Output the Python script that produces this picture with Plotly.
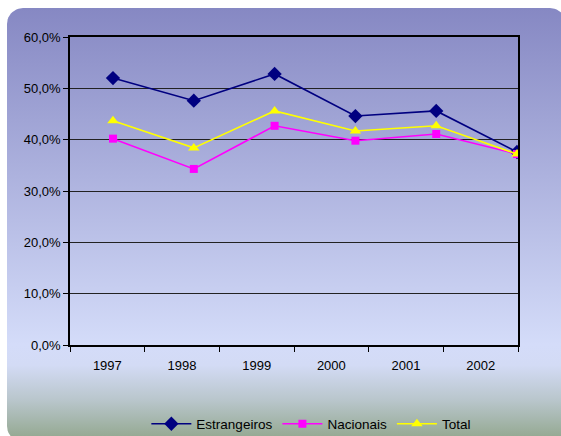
import numpy as np
import plotly.graph_objects as go

# dados
anos = ["1997", "1998", "1999", "2000", "2001", "2002"]
estrangeiros = [0.520, 0.476, 0.528, 0.446, 0.456, 0.376]
nacionais = [0.402, 0.343, 0.427, 0.398, 0.411, 0.372]
total = [0.437, 0.384, 0.456, 0.417, 0.427, 0.372]

W, H = 561, 436

# moldura arredondada com degradê (coordenadas em pixels, y para cima)
def rounded_rect(x0, y0, x1, y1, r, n=12):
    xs, ys = [], []
    cantos = [(x1 - r, y1 - r, 0, 90), (x0 + r, y1 - r, 90, 180),
              (x0 + r, y0 + r, 180, 270), (x1 - r, y0 + r, 270, 360)]
    for cx, cy, a0, a1 in cantos:
        t = np.radians(np.linspace(a0, a1, n))
        xs += list(cx + r * np.cos(t))
        ys += list(cy + r * np.sin(t))
    xs.append(xs[0])
    ys.append(ys[0])
    return xs, ys

bx, by = rounded_rect(7, -6, 566, 428, 16)

fig = go.Figure()

fig.add_trace(go.Scatter(
    x=bx, y=by, xaxis="x", yaxis="y",
    mode="lines", fill="toself", line=dict(width=0),
    fillgradient=dict(
        type="vertical", start=-6, stop=428,
        colorscale=[[0, "#93a891"], [0.014, "#96aa94"], [0.097, "#b9c6cc"],
                    [0.177, "#d3dbf5"], [0.224, "#d4dcf9"], [1, "#8688c3"]],
    ),
    hoverinfo="skip", showlegend=False,
))

# traço auxiliar para o eixo de categorias visível
fig.add_trace(go.Scatter(
    x=anos, y=[None] * len(anos), xaxis="x2", yaxis="y2",
    mode="markers", hoverinfo="skip", showlegend=False,
))

series = [
    ("Estrangeiros", estrangeiros, "#000080", "diamond", 11),
    ("Nacionais", nacionais, "#ff00ff", "square", 8),
    ("Total", total, "#ffff00", "triangle-up", 10),
]
for nome, vals, cor, simb, tam in series:
    fig.add_trace(go.Scatter(
        x=anos, y=vals, name=nome, xaxis="x3", yaxis="y2",
        mode="lines+markers",
        line=dict(color=cor, width=1.6),
        marker=dict(symbol=simb, size=tam, color=cor),
    ))

fig.update_layout(
    width=W, height=H, autosize=False,
    margin=dict(l=0, r=0, t=0, b=0, autoexpand=False),
    paper_bgcolor="white",
    plot_bgcolor="rgba(0,0,0,0)",
    separators=",.",
    font=dict(family="Liberation Sans, Arial, sans-serif", size=13, color="black"),
    xaxis=dict(domain=[0, 1], range=[0, W], visible=False, fixedrange=True),
    yaxis=dict(domain=[0, 1], range=[0, H], visible=False, fixedrange=True),
    xaxis2=dict(
        domain=[70 / W, 518 / W], anchor="y2", type="category",
        categoryarray=anos, range=[-0.5, 5.5],
        tickson="boundaries", ticks="outside", ticklen=5, tickcolor="black",
        showline=True, linecolor="black", linewidth=1.5, mirror=True,
        showgrid=False, tickfont=dict(size=13), ticklabelstandoff=8,
    ),
    xaxis3=dict(
        overlaying="x2", anchor="y2", type="category",
        categoryarray=anos, range=[-0.532, 5.012], visible=False,
    ),
    yaxis2=dict(
        domain=[1 - 345 / H, 1 - 37 / H], anchor="x2",
        range=[0, 0.6], dtick=0.1, tickformat=".1%",
        ticks="outside", ticklen=5, tickcolor="black",
        showline=True, linecolor="black", linewidth=1.5, mirror=True,
        showgrid=True, gridcolor="#222222", gridwidth=1,
        zeroline=False, tickfont=dict(size=13),
    ),
    legend=dict(
        orientation="h", x=0.555, xanchor="center", y=-0.008, yanchor="bottom",
        bgcolor="rgba(0,0,0,0)", font=dict(size=13.5), itemwidth=40,
        tracegroupgap=0,
    ),
)

fig.write_html("out.html", config={"displayModeBar": False},
               post_script="document.body.style.margin='0px';")
